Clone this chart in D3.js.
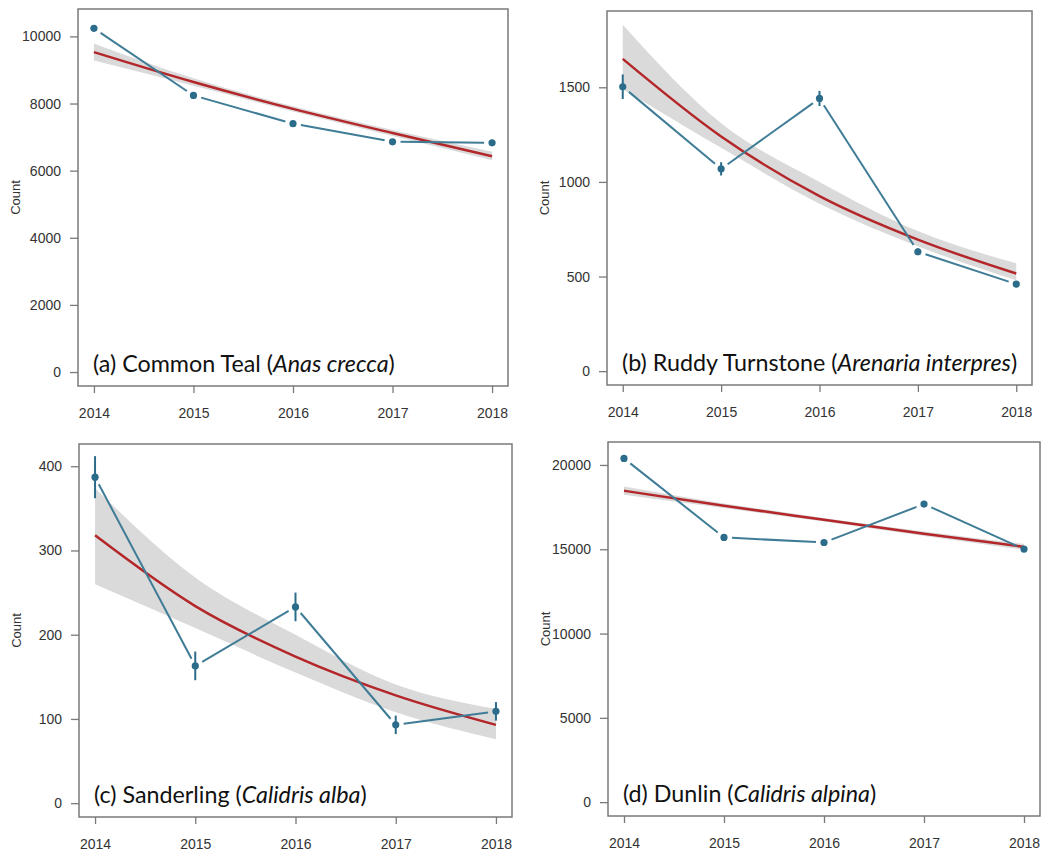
<!DOCTYPE html>
<html>
<head>
<meta charset="utf-8">
<script src="https://cdn.jsdelivr.net/npm/d3@7"></script>
<style>
  body { margin: 0; background: #fff; }
  svg { display: block; }
</style>
</head>
<body>
<div id="chart"></div>
<script>
// survey years, shared by all four panels
var years = [2014, 2015, 2016, 2017, 2018];

// (a) Common Teal
var tealCount = [10240, 8240, 7400, 6860, 6830];
var tealErr   = [90, 70, 60, 60, 60];
var tealFit   = [9530, 8640, 7840, 7120, 6430];
var tealLow   = [9280, 8530, 7760, 7030, 6310];
var tealHigh  = [9790, 8750, 7920, 7210, 6560];

// (b) Ruddy Turnstone
var turnCount = [1503, 1069, 1441, 631, 460];
var turnErr   = [65, 35, 40, 18, 15];
var turnFit   = [1650, 1240, 925, 695, 516];
var turnLow   = [1490, 1180, 885, 660, 480];
var turnHigh  = [1830, 1310, 1000, 740, 570];

// (c) Sanderling
var sandCount = [387, 163, 233, 93, 109];
var sandErr   = [25, 17, 17, 11, 11];
var sandFit   = [318, 234, 174, 128, 93];
var sandLow   = [260, 208, 155, 108, 76];
var sandHigh  = [374, 268, 200, 141, 112];

// (d) Dunlin
var dunCount = [20390, 15700, 15400, 17680, 15010];
var dunErr   = [110, 110, 110, 110, 110];
var dunFit   = [18470, 17580, 16750, 15920, 15140];
var dunLow   = [18230, 17440, 16640, 15790, 14960];
var dunHigh  = [18720, 17720, 16860, 16050, 15320];

// y ticks and axis upper limits
var tealTicks = [0, 2000, 4000, 6000, 8000, 10000];
var turnTicks = [0, 500, 1000, 1500];
var sandTicks = [0, 100, 200, 300, 400];
var dunTicks  = [0, 5000, 10000, 15000, 20000];
var yMax = [10400, 1830, 410, 20540];

var letters = ['(a)', '(b)', '(c)', '(d)'];
var commonNames = ['Common Teal', 'Ruddy Turnstone', 'Sanderling', 'Dunlin'];
var latinNames = ['Anas crecca', 'Arenaria interpres', 'Calidris alba', 'Calidris alpina'];

var width = 1046, height = 854;
var blueLine = '#3f7c96', bluePoint = '#2b6c8a', redLine = '#b3272a', band = '#dadada';

var svg = d3.select('#chart').append('svg')
    .attr('width', width)
    .attr('height', height);

// plot boxes: left, right, top, bottom
var panels = [
  {box: [78, 508, 9, 386],    count: tealCount, err: tealErr, fit: tealFit, low: tealLow, high: tealHigh, ticks: tealTicks},
  {box: [607, 1032, 11, 385], count: turnCount, err: turnErr, fit: turnFit, low: turnLow, high: turnHigh, ticks: turnTicks},
  {box: [79, 512, 444, 817],  count: sandCount, err: sandErr, fit: sandFit, low: sandLow, high: sandHigh, ticks: sandTicks},
  {box: [608, 1040, 442, 816], count: dunCount, err: dunErr, fit: dunFit, low: dunLow, high: dunHigh, ticks: dunTicks}
];

panels.forEach(function(p, k) {
  var L = p.box[0], R = p.box[1], T = p.box[2], B = p.box[3];
  var g = svg.append('g').attr('class', 'panel-' + k);

  var x = d3.scaleLinear().domain([2013.84, 2018.16]).range([L, R]);
  var y = d3.scaleLinear().domain([-0.04 * yMax[k], 1.04 * yMax[k]]).range([B, T]);

  var rows = years.map(function(yr, i) {
    return {year: yr, count: p.count[i], err: p.err[i], fit: p.fit[i], low: p.low[i], high: p.high[i]};
  });

  // confidence band
  g.append('path')
    .datum(rows)
    .attr('fill', band)
    .attr('d', d3.area()
      .curve(d3.curveMonotoneX)
      .x(function(d) { return x(d.year); })
      .y0(function(d) { return y(d.low); })
      .y1(function(d) { return y(d.high); }));

  // fitted trend
  g.append('path')
    .datum(rows)
    .attr('fill', 'none')
    .attr('stroke', redLine)
    .attr('stroke-width', 2.5)
    .attr('d', d3.line()
      .curve(d3.curveMonotoneX)
      .x(function(d) { return x(d.year); })
      .y(function(d) { return y(d.fit); }));

  // observed counts, R type="b" lines (gap round each point)
  var gap = 8;
  var segs = d3.pairs(rows).map(function(pr) {
    var x0 = x(pr[0].year), y0 = y(pr[0].count), x1 = x(pr[1].year), y1 = y(pr[1].count);
    var len = Math.sqrt((x1 - x0) * (x1 - x0) + (y1 - y0) * (y1 - y0));
    var ux = (x1 - x0) / len, uy = (y1 - y0) / len;
    return [x0 + ux * gap, y0 + uy * gap, x1 - ux * gap, y1 - uy * gap];
  });
  g.selectAll('line.seg')
    .data(segs)
    .enter().append('line')
      .attr('class', 'seg')
      .attr('x1', function(d) { return d[0]; })
      .attr('y1', function(d) { return d[1]; })
      .attr('x2', function(d) { return d[2]; })
      .attr('y2', function(d) { return d[3]; })
      .attr('stroke', blueLine)
      .attr('stroke-width', 2);

  g.selectAll('line.err')
    .data(rows)
    .enter().append('line')
      .attr('class', 'err')
      .attr('x1', function(d) { return x(d.year); })
      .attr('x2', function(d) { return x(d.year); })
      .attr('y1', function(d) { return y(d.count - d.err); })
      .attr('y2', function(d) { return y(d.count + d.err); })
      .attr('stroke', bluePoint)
      .attr('stroke-width', 2);

  g.selectAll('circle')
    .data(rows)
    .enter().append('circle')
      .attr('cx', function(d) { return x(d.year); })
      .attr('cy', function(d) { return y(d.count); })
      .attr('r', 3.6)
      .attr('fill', bluePoint);

  // box
  g.append('rect')
    .attr('x', L).attr('y', T)
    .attr('width', R - L).attr('height', B - T)
    .attr('fill', 'none')
    .attr('stroke', '#7a7a7a')
    .attr('stroke-width', 1.5);

  // axes
  var xAxis = g.append('g')
    .attr('transform', 'translate(0,' + B + ')')
    .call(d3.axisBottom(x).tickValues(years).tickFormat(d3.format('d')).tickSize(7).tickPadding(15));
  var yAxis = g.append('g')
    .attr('transform', 'translate(' + L + ',0)')
    .call(d3.axisLeft(y).tickValues(p.ticks).tickFormat(d3.format('d')).tickSize(8).tickPadding(9));
  [xAxis, yAxis].forEach(function(a) {
    a.select('.domain').remove();
    a.selectAll('.tick line').attr('stroke', '#7a7a7a').attr('stroke-width', 1.3);
    a.selectAll('.tick text')
      .attr('fill', '#333')
      .style('font-family', '"Liberation Sans", Arial, sans-serif')
      .style('font-size', '14px');
  });

  g.append('text')
    .attr('transform', 'translate(' + (L - 58) + ',' + ((T + B) / 2) + ') rotate(-90)')
    .attr('text-anchor', 'middle')
    .attr('fill', '#333')
    .style('font-family', '"Liberation Sans", Arial, sans-serif')
    .style('font-size', '13px')
    .text('Count');

  // panel caption
  var cap = g.append('text')
    .attr('x', L + 15)
    .attr('y', B - 14)
    .attr('fill', '#111')
    .style('font-family', 'Lato, "Open Sans", sans-serif')
    .style('font-size', '23.3px');
  cap.append('tspan').text(letters[k] + ' ' + commonNames[k] + ' (');
  cap.append('tspan').style('font-style', 'italic').text(latinNames[k]);
  cap.append('tspan').text(')');
});
</script>
</body>
</html>
